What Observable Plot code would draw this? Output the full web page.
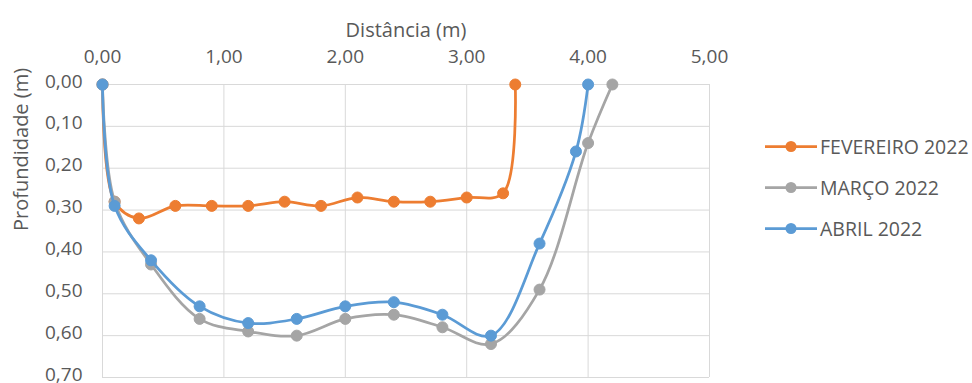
<!DOCTYPE html>
<html>
<head>
<meta charset="utf-8">
<script src="https://cdn.jsdelivr.net/npm/d3@7"></script>
<script src="https://cdn.jsdelivr.net/npm/@observablehq/plot@0.6"></script>
<style>
  html, body { margin: 0; padding: 0; background: #fff; }
  #chart { position: relative; width: 972px; height: 383px; font-family: "Open Sans", sans-serif; }
  #legend { position: absolute; left: 765px; top: 0; }
  .item { position: absolute; left: 0; display: flex; align-items: center; white-space: nowrap;
          font-size: 19.5px; color: #595959; transform: translateY(-50%); }
  .item svg { display: block; margin-right: 3px; }
</style>
</head>
<body>
<div id="chart"><div id="legend"></div></div>
<script>
// Cross-section depth profiles (distance along the section vs. depth), three surveys
const seriesNames = ["FEVEREIRO 2022", "MARÇO 2022", "ABRIL 2022"];
const seriesColors = ["#ED7D31", "#A5A5A5", "#5B9BD5"];

const fevDist = [0, 0.1, 0.3, 0.6, 0.9, 1.2, 1.5, 1.8, 2.1, 2.4, 2.7, 3.0, 3.3, 3.4];
const fevDepth = [0, 0.28, 0.32, 0.29, 0.29, 0.29, 0.28, 0.29, 0.27, 0.28, 0.28, 0.27, 0.26, 0];

const marDist = [0, 0.1, 0.4, 0.8, 1.2, 1.6, 2.0, 2.4, 2.8, 3.2, 3.6, 4.0, 4.2];
const marDepth = [0, 0.28, 0.43, 0.56, 0.59, 0.60, 0.56, 0.55, 0.58, 0.62, 0.49, 0.14, 0];

const abrDist = [0, 0.1, 0.4, 0.8, 1.2, 1.6, 2.0, 2.4, 2.8, 3.2, 3.6, 3.9, 4.0];
const abrDepth = [0, 0.29, 0.42, 0.53, 0.57, 0.56, 0.53, 0.52, 0.55, 0.60, 0.38, 0.16, 0];

const xTicks = [0, 1, 2, 3, 4, 5];
const yTicks = [0, 0.1, 0.2, 0.3, 0.4, 0.5, 0.6, 0.7];

const xTitle = "Distância (m)";
const yTitle = "Profundidade (m)";

// Portuguese-style decimals: 0,00
const fmt = v => d3.format(".2f")(v).replace(".", ",");

const series = [
  {name: seriesNames[0], color: seriesColors[0], dist: fevDist, depth: fevDepth},
  {name: seriesNames[1], color: seriesColors[1], dist: marDist, depth: marDepth},
  {name: seriesNames[2], color: seriesColors[2], dist: abrDist, depth: abrDepth}
].map(s => ({...s, rows: s.dist.map((d, i) => ({d, p: s.depth[i]}))}));

const gridColor = "#d9d9d9";
const textColor = "#595959";

// Each survey draws its line and then its markers, later surveys on top
const seriesMarks = series.flatMap(s => [
  Plot.line(s.rows, {x: "d", y: "p", stroke: s.color, strokeWidth: 2.75, curve: "catmull-rom"}),
  Plot.dot(s.rows, {x: "d", y: "p", r: 5.5, fill: s.color, stroke: s.color, strokeWidth: 1})
]);

const chart = Plot.plot({
  width: 972,
  height: 383,
  marginLeft: 102,
  marginRight: 263,
  marginTop: 84,
  marginBottom: 6,
  style: {fontFamily: "'Open Sans', sans-serif", fontSize: "19px", color: textColor, background: "#fff"},
  x: {domain: [0, 5]},
  y: {domain: [0, 0.7], reverse: true},
  marks: [
    Plot.gridX(xTicks, {stroke: gridColor, strokeOpacity: 1, strokeWidth: 1}),
    Plot.gridY(yTicks, {stroke: gridColor, strokeOpacity: 1, strokeWidth: 1}),
    Plot.axisX(xTicks, {anchor: "top", tickSize: 0, tickPadding: 22, tickFormat: fmt, label: null, fill: textColor}),
    Plot.axisY(yTicks, {anchor: "left", tickSize: 0, tickPadding: 20, tickFormat: fmt, label: null, fill: textColor, dy: -3}),
    Plot.text([xTitle], {frameAnchor: "top", dy: -62, fill: textColor, fontSize: 20}),
    Plot.text([yTitle], {frameAnchor: "left", dx: -81, rotate: -90, fill: textColor, fontSize: 20}),
    ...seriesMarks
  ]
});

const root = document.getElementById("chart");
root.insertBefore(chart, root.firstChild);

// Legend: line with a marker, then the survey name
const legend = document.getElementById("legend");
const legendRows = [146, 187, 228];
series.forEach((s, i) => {
  const item = document.createElement("div");
  item.className = "item";
  item.style.top = legendRows[i] + "px";
  const ns = "http://www.w3.org/2000/svg";
  const sw = document.createElementNS(ns, "svg");
  sw.setAttribute("width", 52);
  sw.setAttribute("height", 14);
  const ln = document.createElementNS(ns, "line");
  ln.setAttribute("x1", 0); ln.setAttribute("x2", 52);
  ln.setAttribute("y1", 7); ln.setAttribute("y2", 7);
  ln.setAttribute("stroke", s.color); ln.setAttribute("stroke-width", 2.75);
  const c = document.createElementNS(ns, "circle");
  c.setAttribute("cx", 26); c.setAttribute("cy", 7); c.setAttribute("r", 5.5);
  c.setAttribute("fill", s.color);
  sw.appendChild(ln); sw.appendChild(c);
  const label = document.createElement("span");
  label.textContent = s.name;
  item.appendChild(sw);
  item.appendChild(label);
  legend.appendChild(item);
});
</script>
</body>
</html>
